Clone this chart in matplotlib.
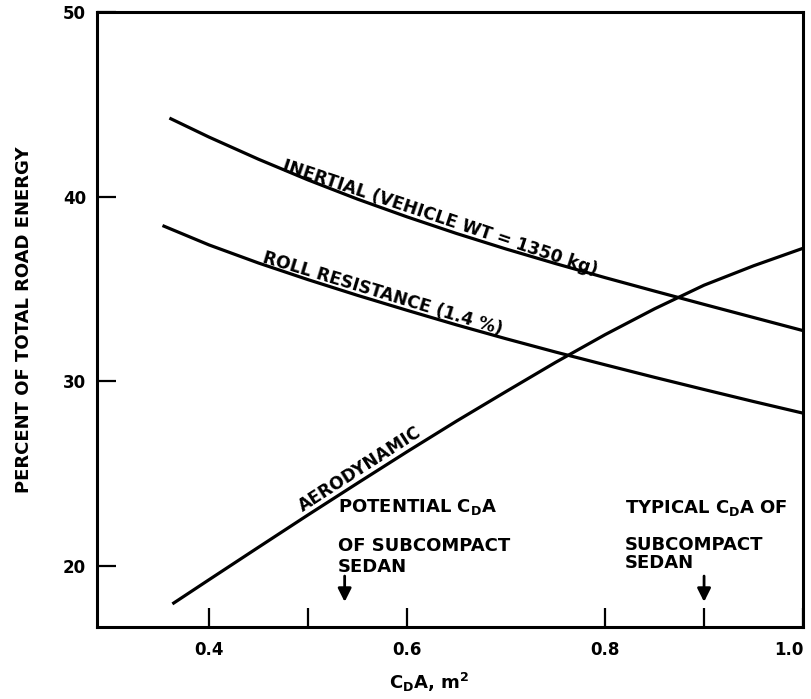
import matplotlib
matplotlib.use('Agg')
import matplotlib.pyplot as plt

# values (C_D*A in m^2, percent of total road energy)
inertial_x = [0.36, 0.40, 0.45, 0.50, 0.55, 0.60, 0.65, 0.70, 0.75, 0.80, 0.85, 0.90, 0.95, 1.00]
inertial_y = [44.25, 43.22, 42.02, 40.90, 39.86, 38.90, 38.00, 37.16, 36.37, 35.61, 34.88, 34.16, 33.45, 32.74]

roll_x = [0.353, 0.40, 0.45, 0.50, 0.55, 0.60, 0.65, 0.70, 0.75, 0.80, 0.85, 0.90, 0.95, 1.00]
roll_y = [38.43, 37.38, 36.40, 35.50, 34.65, 33.84, 33.05, 32.30, 31.58, 30.89, 30.21, 29.55, 28.90, 28.27]

aero_x = [0.363, 0.40, 0.45, 0.50, 0.55, 0.60, 0.65, 0.70, 0.75, 0.80, 0.85, 0.90, 0.95, 1.00]
aero_y = [17.94, 19.25, 21.01, 22.76, 24.48, 26.18, 27.84, 29.44, 31.02, 32.52, 33.92, 35.20, 36.25, 37.20]

xticks = [0.4, 0.5, 0.6, 0.8, 0.9, 1.0]
xtick_labels = ['0.4', '', '0.6', '0.8', '', '1.0']
yticks = [20, 30, 40, 50]

potential_cda = 0.537
typical_cda = 0.9

plt.rcParams['font.family'] = ['DejaVu Sans']
plt.rcParams['font.weight'] = 'bold'

fig = plt.figure(figsize=(8.12, 6.99), dpi=100)
ax = fig.add_axes([0.1195, 0.103, 0.8695, 0.880])

for xs, ys in [(inertial_x, inertial_y), (roll_x, roll_y), (aero_x, aero_y)]:
    ax.plot(xs, ys, color='black', lw=2.3, solid_capstyle='butt')

ax.set_xlim(0.2869, 1.0)
ax.set_ylim(16.69, 50)

for side in ['top', 'right', 'left', 'bottom']:
    ax.spines[side].set_linewidth(2.2)

ax.set_xticks(xticks)
ax.set_xticklabels(xtick_labels)
ax.set_yticks(yticks)
ax.tick_params(axis='both', direction='in', length=14, width=1.6,
               labelsize=12, top=False, right=False)
ax.tick_params(axis='x', pad=10)
ax.tick_params(axis='y', pad=8)
for lbl in ax.get_xticklabels() + ax.get_yticklabels():
    lbl.set_fontweight('bold')
# last label sits against the right edge, as in the scan
ax.get_xticklabels()[-1].set_horizontalalignment('right')

ax.set_ylabel('PERCENT OF TOTAL ROAD ENERGY', fontsize=13, fontweight='bold')
ax.yaxis.set_label_coords(-0.091, 0.5)
ax.set_xlabel(r'C$_\mathbf{D}$A, m$^\mathbf{2}$', fontsize=13, fontweight='bold')
ax.xaxis.set_label_coords(0.47, -0.072)

# curve labels
ax.text(0.633, 38.85, 'INERTIAL (VEHICLE WT = 1350 kg)', rotation=-18.5,
        ha='center', va='center', fontsize=12.3, fontweight='bold')
ax.text(0.575, 34.75, 'ROLL RESISTANCE (1.4 %)', rotation=-16.9,
        ha='center', va='center', fontsize=12.3, fontweight='bold')
ax.text(0.553, 25.26, 'AERODYNAMIC', rotation=32.8,
        ha='center', va='center', fontsize=12.3, fontweight='bold')

# annotations for subcompact sedans
note = dict(ha='left', va='baseline', fontsize=13, fontweight='bold')
ax.text(0.530, 22.93, r'POTENTIAL C$_\mathbf{D}$A', **note)
ax.text(0.530, 20.81, 'OF SUBCOMPACT', **note)
ax.text(0.530, 19.67, 'SEDAN', **note)

ax.text(0.820, 22.87, r'TYPICAL C$_\mathbf{D}$A OF', **note)
ax.text(0.820, 20.87, 'SUBCOMPACT', **note)
ax.text(0.820, 19.89, 'SEDAN', **note)

arrow = dict(arrowstyle='-|>', color='black', lw=2, mutation_scale=20)
ax.annotate('', xy=(potential_cda, 17.9), xytext=(potential_cda, 19.6), arrowprops=arrow)
ax.annotate('', xy=(typical_cda, 17.9), xytext=(typical_cda, 19.6), arrowprops=arrow)

plt.savefig('out.png', dpi=100)
